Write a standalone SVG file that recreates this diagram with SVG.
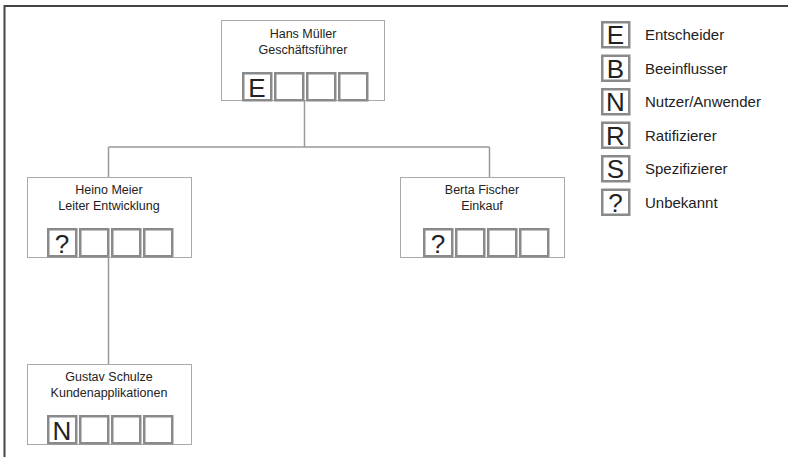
<svg xmlns="http://www.w3.org/2000/svg" width="788" height="457" viewBox="0 0 788 457">
  <style>
    .frame { fill: none; stroke: #444; stroke-width: 2; }
    .node { fill: #fff; stroke: #aaa; stroke-width: 1; }
    .slot { fill: #fff; stroke: #8a8a8a; stroke-width: 2.5; }
    .name { font-family: "Liberation Sans", Arial, sans-serif; font-size: 12.5px; fill: #222; text-anchor: middle; }
    .code { font-family: "Liberation Sans", Arial, sans-serif; font-size: 26px; fill: #222; text-anchor: middle; }
    .legend { font-family: "Liberation Sans", Arial, sans-serif; font-size: 15px; fill: #222; }
    .link { fill: none; stroke: #999; stroke-width: 1.5; }
  </style>
  <defs>
    <!-- four role slots at the foot of each person box -->
    <g id="slots">
      <rect class="slot" x="1.25" y="1.25" width="28" height="27"/>
      <rect class="slot" x="33.25" y="1.25" width="28" height="27"/>
      <rect class="slot" x="65.25" y="1.25" width="28" height="27"/>
      <rect class="slot" x="97.25" y="1.25" width="28" height="27"/>
    </g>
  </defs>

  <rect width="788" height="457" fill="#fff"/>
  <!-- page frame: top and left edges only -->
  <path class="frame" d="M4.5,457 V6 H788"/>

  <g id="connectors">
    <path class="link" d="M304.5,101 V147"/>
    <path class="link" d="M108.5,147 H489.5"/>
    <path class="link" d="M108.5,147 V177"/>
    <path class="link" d="M489.5,147 V177"/>
    <path class="link" d="M108.5,258 V364"/>
  </g>

  <g id="node-mueller">
    <rect class="node" x="221.5" y="20.5" width="163" height="80"/>
    <text class="name" x="303" y="38">Hans Müller</text>
    <text class="name" x="303" y="54">Geschäftsführer</text>
    <use href="#slots" x="242" y="72"/>
    <text class="code" x="257" y="97">E</text>
  </g>

  <g id="node-meier">
    <rect class="node" x="27.5" y="177.5" width="164" height="80"/>
    <text class="name" x="109" y="194">Heino Meier</text>
    <text class="name" x="109" y="210">Leiter Entwicklung</text>
    <use href="#slots" x="47" y="228"/>
    <text class="code" x="62" y="253">?</text>
  </g>

  <g id="node-fischer">
    <rect class="node" x="400.5" y="177.5" width="164" height="80"/>
    <text class="name" x="482" y="194">Berta Fischer</text>
    <text class="name" x="482" y="210">Einkauf</text>
    <use href="#slots" x="423" y="228"/>
    <text class="code" x="438" y="253">?</text>
  </g>

  <g id="node-schulze">
    <rect class="node" x="27.5" y="364.5" width="164" height="80"/>
    <text class="name" x="109" y="381">Gustav Schulze</text>
    <text class="name" x="109" y="397">Kundenapplikationen</text>
    <use href="#slots" x="47" y="415"/>
    <text class="code" x="62" y="440">N</text>
  </g>

  <g id="legend">
    <rect class="slot" x="602.25" y="22.25" width="27" height="25"/>
    <text class="code" x="615.5" y="44">E</text>
    <text class="legend" x="645" y="40">Entscheider</text>

    <rect class="slot" x="602.25" y="55.75" width="27" height="25"/>
    <text class="code" x="615.5" y="77.5">B</text>
    <text class="legend" x="645" y="73.5">Beeinflusser</text>

    <rect class="slot" x="602.25" y="89.25" width="27" height="25"/>
    <text class="code" x="615.5" y="111">N</text>
    <text class="legend" x="645" y="107">Nutzer/Anwender</text>

    <rect class="slot" x="602.25" y="122.75" width="27" height="25"/>
    <text class="code" x="615.5" y="144.5">R</text>
    <text class="legend" x="645" y="140.5">Ratifizierer</text>

    <rect class="slot" x="602.25" y="156.25" width="27" height="25"/>
    <text class="code" x="615.5" y="178">S</text>
    <text class="legend" x="645" y="174">Spezifizierer</text>

    <rect class="slot" x="602.25" y="189.75" width="27" height="25"/>
    <text class="code" x="615.5" y="211.5">?</text>
    <text class="legend" x="645" y="207.5">Unbekannt</text>
  </g>
</svg>
